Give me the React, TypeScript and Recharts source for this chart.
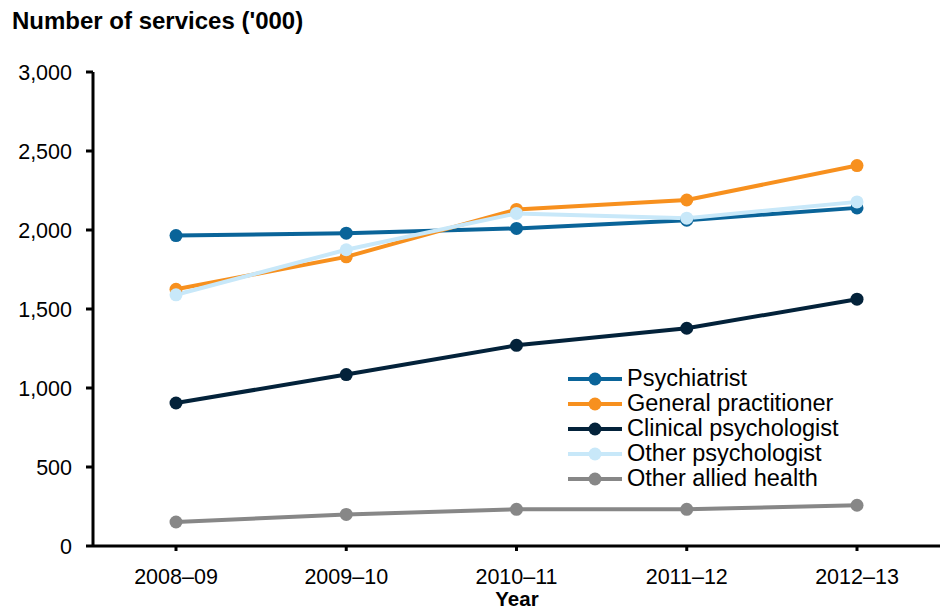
import React from 'react';
import { LineChart, Line, XAxis, YAxis } from 'recharts';

const years = ['2008–09', '2009–10', '2010–11', '2011–12', '2012–13'];

const psychiatrist = [1965, 1980, 2010, 2062, 2140];
const generalPractitioner = [1625, 1830, 2130, 2190, 2408];
const clinicalPsychologist = [905, 1085, 1270, 1378, 1562];
const otherPsychologist = [1590, 1875, 2105, 2075, 2178];
const otherAlliedHealth = [152, 200, 232, 232, 258];

const yTicks = [0, 500, 1000, 1500, 2000, 2500, 3000];

const seriesList = [
  { key: 'Psychiatrist', values: psychiatrist, color: '#0a6499' },
  { key: 'General practitioner', values: generalPractitioner, color: '#f7901e' },
  { key: 'Clinical psychologist', values: clinicalPsychologist, color: '#03223a' },
  { key: 'Other psychologist', values: otherPsychologist, color: '#c8e8f9' },
  { key: 'Other allied health', values: otherAlliedHealth, color: '#878787' },
];

const data = years.map((year, i) => {
  const row: Record<string, string | number> = { year };
  seriesList.forEach(s => { row[s.key] = s.values[i]; });
  return row;
});

const font = 'Arial, "Liberation Sans", sans-serif';

const LegendIcon = ({ color }: { color: string }) => (
  <svg width={56} height={14} style={{ display: 'block' }}>
    <line x1={1} y1={7} x2={55} y2={7} stroke={color} strokeWidth={4} />
    <circle cx={28} cy={7} r={6.5} fill={color} />
  </svg>
);

// legend drawn as a plain overlay so it does not eat plot space
const ChartLegend = () => (
  <div style={{ position: 'absolute', left: 567, top: 366, fontFamily: font, fontSize: 23.5, color: '#000' }}>
    {seriesList.map(s => (
      <div key={s.key} style={{ display: 'flex', alignItems: 'center', height: 25 }}>
        <LegendIcon color={s.color} />
        <span style={{ marginLeft: 4, lineHeight: '25px', whiteSpace: 'nowrap' }}>{s.key}</span>
      </div>
    ))}
  </div>
);

export default function App() {
  return (
    <div style={{ position: 'absolute', left: 0, top: 0, width: 940, height: 611, background: '#fff', fontFamily: font }}>
      <div style={{ position: 'absolute', left: 12, top: 7, fontSize: 24, fontWeight: 'bold', color: '#000', whiteSpace: 'nowrap' }}>
        Number of services ('000)
      </div>
      <div style={{ position: 'absolute', left: 0, top: 589, width: 940, textAlign: 'center', paddingLeft: 94, boxSizing: 'border-box', fontSize: 20.5, lineHeight: '20px', fontWeight: 'bold', color: '#000' }}>
        Year
      </div>
      <LineChart width={940} height={611} data={data} margin={{ top: 72, right: 0, bottom: 0, left: 0 }}>
        <XAxis
          dataKey="year"
          height={65}
          padding={{ left: 83, right: 83 }}
          axisLine={{ stroke: '#000', strokeWidth: 3 }}
          tickLine={{ stroke: '#000', strokeWidth: 3 }}
          tickSize={5}
          tick={{ fill: '#000', fontSize: 21.5, fontFamily: font }}
          tickMargin={18}
        />
        <YAxis
          width={93}
          domain={[0, 3000]}
          ticks={yTicks}
          interval={0}
          tickFormatter={(v: number) => v.toLocaleString('en-US')}
          axisLine={{ stroke: '#000', strokeWidth: 3 }}
          tickLine={{ stroke: '#000', strokeWidth: 3 }}
          tickSize={7}
          tickMargin={14}
          tick={{ fill: '#000', fontSize: 21.5, fontFamily: font }}
        />
        {seriesList.map(s => (
          <Line
            key={s.key}
            dataKey={s.key}
            stroke={s.color}
            strokeWidth={4}
            dot={{ r: 6.5, fill: s.color, stroke: s.color, strokeWidth: 0 }}
            activeDot={false}
            isAnimationActive={false}
          />
        ))}
      </LineChart>
      <ChartLegend />
    </div>
  );
}
